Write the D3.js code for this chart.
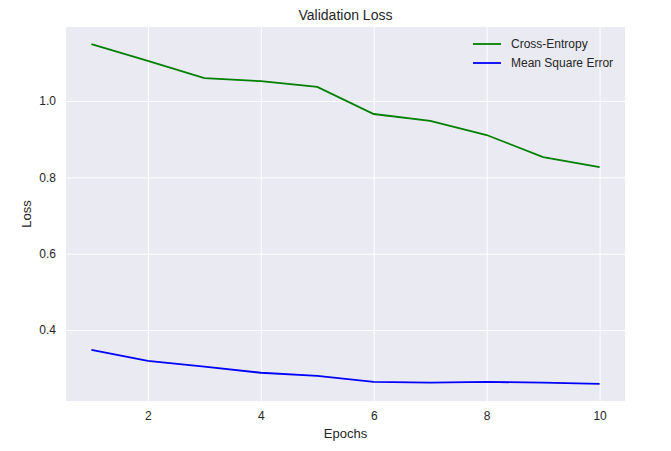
<!DOCTYPE html>
<html>
<head>
<meta charset="utf-8">
<script src="https://cdn.jsdelivr.net/npm/d3@7"></script>
<style>
  body { margin: 0; background: #fff; }
  text { font-family: "Liberation Sans", Arial, sans-serif; fill: #262626; }
</style>
</head>
<body>
<div id="chart"></div>
<script>
const epochs = [1, 2, 3, 4, 5, 6, 7, 8, 9, 10];
const crossEntropy = [1.149, 1.105, 1.060, 1.052, 1.037, 0.966, 0.948, 0.911, 0.853, 0.827];
const mse = [0.348, 0.319, 0.304, 0.288, 0.280, 0.264, 0.262, 0.264, 0.262, 0.259];
const xTicks = [2, 4, 6, 8, 10];
const yTicks = [0.4, 0.6, 0.8, 1.0];
const seriesNames = ['Cross-Entropy', 'Mean Square Error'];
const seriesColors = ['#008000', '#0000ff'];

let dimensions = {
    width: 671,
    height: 451,
    margin: { top: 27, right: 46, bottom: 50, left: 66 }
};
dimensions.boundW = dimensions.width - dimensions.margin.left - dimensions.margin.right;
dimensions.boundH = dimensions.height - dimensions.margin.top - dimensions.margin.bottom;

let svg = d3.select('#chart').append('svg')
    .attr('width', dimensions.width)
    .attr('height', dimensions.height);

let bounds = svg.append('g')
    .attr('transform', `translate(${dimensions.margin.left},${dimensions.margin.top})`);

bounds.append('rect')
    .attr('width', dimensions.boundW)
    .attr('height', dimensions.boundH)
    .attr('fill', '#eaeaf2');

let xScale = d3.scaleLinear()
    .domain([0.55, 10.45])
    .range([0, dimensions.boundW]);

let yScale = d3.scaleLinear()
    .domain([0.214, 1.194])
    .range([dimensions.boundH, 0]);

// grid + tick labels
let xAxis = bounds.append('g')
    .attr('transform', `translate(0,${dimensions.boundH})`)
    .call(d3.axisBottom(xScale).tickValues(xTicks).tickSize(-dimensions.boundH).tickPadding(10));
let yAxis = bounds.append('g')
    .call(d3.axisLeft(yScale).tickValues(yTicks).tickFormat(d3.format('.1f')).tickSize(-dimensions.boundW).tickPadding(10));
[xAxis, yAxis].forEach(a => {
    a.select('.domain').remove();
    a.selectAll('line').attr('stroke', '#fff').attr('stroke-width', 1);
    a.selectAll('text').style('font-size', '12px').attr('fill', '#262626');
});

let lineGen = d3.line()
    .x((d, i) => xScale(epochs[i]))
    .y(d => yScale(d));

[crossEntropy, mse].forEach((s, i) => {
    bounds.append('path')
        .attr('d', lineGen(s))
        .attr('fill', 'none')
        .attr('stroke', seriesColors[i])
        .attr('stroke-width', 1.8);
});

// legend
let legend = bounds.append('g')
    .attr('transform', `translate(${dimensions.boundW - 152},17)`);
seriesNames.forEach((n, i) => {
    let g = legend.append('g').attr('transform', `translate(0,${i * 19})`);
    g.append('line').attr('x1', 0).attr('x2', 28)
        .attr('stroke', seriesColors[i]).attr('stroke-width', 1.8);
    g.append('text').attr('x', 38).attr('y', 4).text(n).style('font-size', '12px');
});

svg.append('text')
    .attr('x', dimensions.margin.left + dimensions.boundW / 2)
    .attr('y', 20)
    .attr('text-anchor', 'middle')
    .style('font-size', '14px')
    .text('Validation Loss');

svg.append('text')
    .attr('x', dimensions.margin.left + dimensions.boundW / 2)
    .attr('y', 438)
    .attr('text-anchor', 'middle')
    .style('font-size', '13px')
    .text('Epochs');

svg.append('text')
    .attr('transform', `translate(31,${dimensions.margin.top + dimensions.boundH / 2}) rotate(-90)`)
    .attr('text-anchor', 'middle')
    .style('font-size', '13px')
    .text('Loss');
</script>
</body>
</html>
